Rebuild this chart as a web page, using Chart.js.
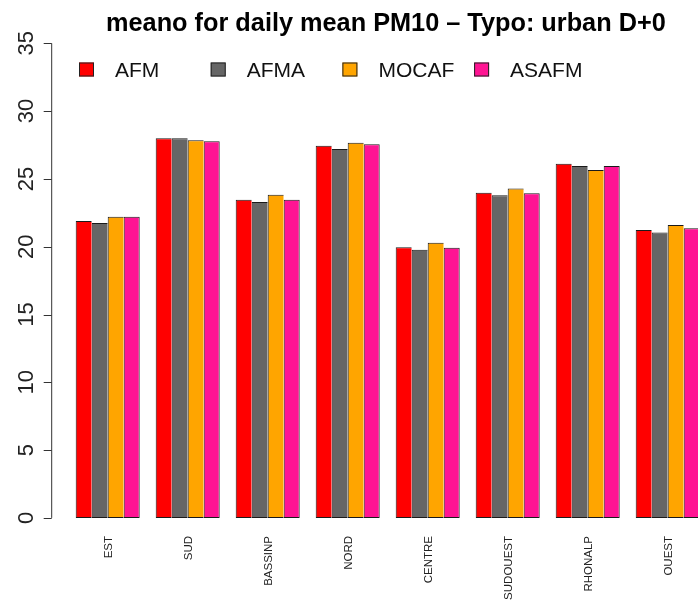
<!DOCTYPE html>
<html>
<head>
<meta charset="utf-8">
<title>meano for daily mean PM10</title>
<script src="https://cdn.jsdelivr.net/npm/chart.js@4/dist/chart.umd.min.js"></script>
<style>
  html, body { margin: 0; padding: 0; overflow: hidden; background: #ffffff; }
  canvas { display: block; }
</style>
</head>
<body>
<canvas id="chart" width="720" height="606"></canvas>
<script>
// Regions (x categories)
const categories = ['EST', 'SUD', 'BASSINP', 'NORD', 'CENTRE', 'SUDOUEST', 'RHONALP', 'OUEST'];

// Mean daily PM10 per model
const afm   = [21.90, 28.00, 23.47, 27.45, 19.96, 23.98, 26.12, 21.24];
const afma  = [21.75, 28.00, 23.30, 27.20, 19.78, 23.79, 25.95, 21.04];
const mocaf = [22.20, 27.85, 23.84, 27.67, 20.30, 24.30, 25.66, 21.60];
const asafm = [22.20, 27.77, 23.47, 27.55, 19.93, 23.94, 25.95, 21.36];

const seriesNames = ['AFM', 'AFMA', 'MOCAF', 'ASAFM'];
const seriesValues = [afm, afma, mocaf, asafm];
const seriesColors = ['#FF0000', '#666666', '#FFA500', '#FF1493'];

// Y axis ticks
const yTicks = [0, 5, 10, 15, 20, 25, 30, 35];

const titleText = 'meano for daily mean PM10 \u2013 Typo: urban D+0';

// Axes, labels, title and legend drawn in base-graphics style
const baseStyle = {
  id: 'baseStyle',
  afterDraw(chart) {
    const ctx = chart.ctx;
    const x = chart.scales.x;
    const y = chart.scales.y;
    ctx.save();

    // y axis line and ticks
    const axisX = 51.7;
    ctx.strokeStyle = '#333333';
    ctx.lineWidth = 1;
    ctx.beginPath();
    ctx.moveTo(axisX, y.getPixelForValue(yTicks[0]));
    ctx.lineTo(axisX, y.getPixelForValue(yTicks[yTicks.length - 1]));
    yTicks.forEach(t => {
      const py = Math.round(y.getPixelForValue(t)) + 0.5;
      ctx.moveTo(axisX, py);
      ctx.lineTo(axisX - 8, py);
    });
    ctx.stroke();

    // y tick labels, parallel to the axis
    ctx.fillStyle = '#222222';
    ctx.font = '22px "Liberation Sans", Arial, sans-serif';
    ctx.textAlign = 'center';
    ctx.textBaseline = 'alphabetic';
    yTicks.forEach(t => {
      ctx.save();
      ctx.translate(32.6, y.getPixelForValue(t));
      ctx.rotate(-Math.PI / 2);
      ctx.fillText(String(t), 0, 0);
      ctx.restore();
    });

    // category labels, perpendicular to the axis
    ctx.font = '11.5px "Liberation Sans", Arial, sans-serif';
    ctx.textAlign = 'right';
    categories.forEach((c, i) => {
      ctx.save();
      ctx.translate(x.getPixelForValue(i) + 4.1, 536);
      ctx.rotate(-Math.PI / 2);
      ctx.fillText(c, 0, 0);
      ctx.restore();
    });

    // title
    ctx.fillStyle = '#000000';
    ctx.font = 'bold 25.3px "Liberation Sans", Arial, sans-serif';
    ctx.textAlign = 'center';
    ctx.fillText(titleText, 385.9, 31);

    // legend
    ctx.font = '21px "Liberation Sans", Arial, sans-serif';
    ctx.textAlign = 'left';
    seriesNames.forEach((name, i) => {
      const lx = 79 + i * 131.7;
      ctx.fillStyle = seriesColors[i];
      ctx.fillRect(lx, 62.5, 15, 14);
      ctx.strokeStyle = '#222222';
      ctx.lineWidth = 1;
      ctx.strokeRect(lx + 0.5, 62.5 + 0.5, 14, 13);
      ctx.fillStyle = '#111111';
      ctx.fillText(name, lx + 36, 77.3);
    });

    ctx.restore();
  }
};

const datasets = seriesNames.map((name, i) => ({
  label: name,
  data: seriesValues[i],
  backgroundColor: seriesColors[i],
  borderColor: '#1a1a1a',
  borderWidth: i === seriesNames.length - 1
    ? { top: 1, left: 1, bottom: 1, right: 1 }
    : { top: 1, left: 1, bottom: 1, right: 0 },
  borderSkipped: false,
  categoryPercentage: 0.8,
  barPercentage: 1.0
}));

new Chart(document.getElementById('chart'), {
  type: 'bar',
  data: { labels: categories, datasets: datasets },
  options: {
    responsive: false,
    animation: false,
    devicePixelRatio: 1,
    layout: { padding: { left: 67.7, right: 12.3, top: 43.3, bottom: 88.1 } },
    plugins: {
      legend: { display: false },
      title: { display: false },
      tooltip: { enabled: false }
    },
    scales: {
      x: { display: false, offset: true },
      y: { display: false, min: 0, max: 35 }
    }
  },
  plugins: [baseStyle]
});
</script>
</body>
</html>
